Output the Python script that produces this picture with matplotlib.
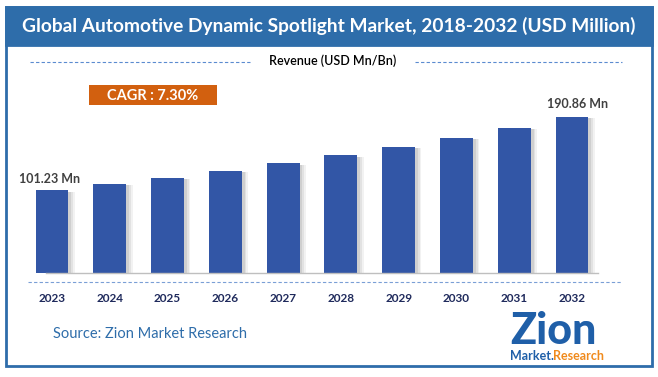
import matplotlib.pyplot as plt
from matplotlib.patches import Rectangle
from matplotlib.lines import Line2D

years = ["2023", "2024", "2025", "2026", "2027", "2028", "2029", "2030", "2031", "2032"]
revenue = [101.23, 108.6, 116.6, 125.1, 134.2, 144.0, 154.5, 165.8, 177.9, 190.86]
label_first = "101.23 Mn"
label_last = "190.86 Mn"
cagr_text = "CAGR : 7.30%"

W, H = 658, 377
BLUE = "#2E6DAA"
BAR = "#3256A6"

fig = plt.figure(figsize=(W / 100, H / 100), dpi=100)
plt.rcParams['font.family'] = ['Lato', 'DejaVu Sans']


def fx(x):
    return x / W


def fy(y):
    return 1 - y / H


# frame + title bar
fig.patches.append(Rectangle((fx(6), fy(366)), fx(646), (359) / H, transform=fig.transFigure,
                             fill=False, edgecolor=BLUE, linewidth=2))
fig.patches.append(Rectangle((fx(6), fy(45)), fx(646), 38 / H, transform=fig.transFigure,
                             facecolor=BLUE, edgecolor=BLUE, linewidth=2))
fig.text(fx(329), fy(26), "Global Automotive Dynamic Spotlight Market, 2018-2032 (USD Million)",
         color="white", fontsize=13.8, fontweight="bold", ha="center", va="center")

# subtitle with dashed lines
fig.text(fx(333), fy(61), "Revenue (USD Mn/Bn)", fontsize=9, color="black",
         fontweight="semibold", ha="center", va="center")
for x0, x1 in [(30, 250), (415, 622)]:
    fig.lines.append(Line2D([fx(x0), fx(x1)], [fy(62), fy(62)], transform=fig.transFigure,
                            color="#5B8BD0", linewidth=0.8, linestyle=(0, (3, 2))))

# CAGR box
fig.patches.append(Rectangle((fx(89), fy(105)), fx(128), 20 / H, transform=fig.transFigure,
                             facecolor="#D2600F", edgecolor="none"))
fig.text(fx(153), fy(95.5), cagr_text, color="white", fontsize=10.5, fontweight="bold",
         ha="center", va="center")

# bars with soft shadow
ax = fig.add_axes([fx(22), fy(273), fx(606), 173 / H])
x = list(range(len(years)))
for off, a in [(0.11, 0.12), (0.08, 0.18), (0.05, 0.25)]:
    ax.bar([i + off for i in x], [v - 1.5 for v in revenue], width=0.57, color="#9A9A9A",
           alpha=a, linewidth=0, zorder=1)
ax.bar(x, revenue, width=0.57, color=BAR, zorder=2)
ax.set_xlim(-0.519, 9.969)
ax.set_ylim(0, 211.7)
ax.axis("off")
ax.plot([-0.1, 9.45], [0, 0], color="#BFBFBF", linewidth=1, zorder=3, clip_on=False)
ax.text(x[0] - 0.05, revenue[0] + 7, label_first, ha="center", va="bottom",
        fontsize=9, fontweight="bold", color="#404040")
ax.text(x[-1] + 0.1, revenue[-1] + 8, label_last, ha="center", va="bottom",
        fontsize=9, fontweight="bold", color="#404040")
for i, yr in zip(x, years):
    ax.annotate(yr, (i, 0), xytext=(0, -18), textcoords="offset points", ha="center",
                va="center", fontsize=8.5, fontweight="bold", color="#1F2A5C",
                annotation_clip=False)

fig.lines.append(Line2D([fx(28), fx(622)], [fy(282), fy(282)], transform=fig.transFigure,
                        color="#7A9FD6", linewidth=0.8, linestyle=(0, (3, 2))))

# source + logo
fig.text(fx(53), fy(334), "Source: Zion Market Research", color=BLUE, fontsize=10.5,
         ha="left", va="center")
fig.text(fx(553), fy(331), "Zion", color="#1F5FA8", fontsize=31, fontweight="black",
         ha="center", va="center")
fig.text(fx(532), fy(356), "Market.", color="#1F5FA8", fontsize=9, fontweight="bold",
         ha="center", va="center")
fig.text(fx(578), fy(356), "Research", color="#F08A1C", fontsize=9, fontweight="bold",
         ha="center", va="center")

fig.savefig("out.png", dpi=100)
